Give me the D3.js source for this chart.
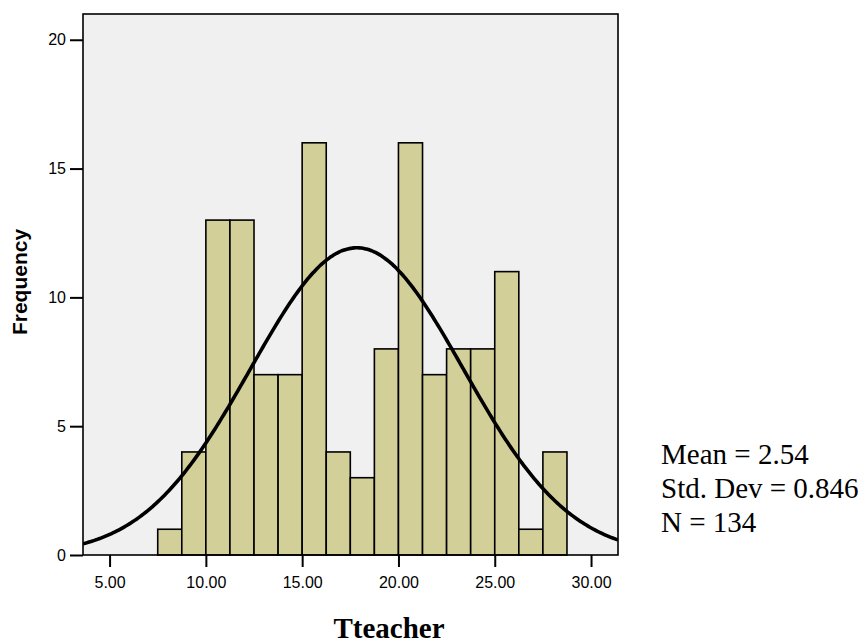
<!DOCTYPE html>
<html>
<head>
<meta charset="utf-8">
<script src="https://cdn.jsdelivr.net/npm/d3@7"></script>
<style>
  body { margin: 0; background: #fff; }
  svg { display: block; }
</style>
</head>
<body>
<div id="chart"></div>
<script>
// histogram bins (left edges) and counts
const binStarts = [7.5, 8.75, 10, 11.25, 12.5, 13.75, 15, 16.25, 17.5, 18.75, 20, 21.25, 22.5, 23.75, 25, 26.25, 27.5];
const binWidth = 1.25;
const counts = [1, 4, 13, 13, 7, 7, 16, 4, 3, 8, 16, 7, 8, 8, 11, 1, 4];
const xTicks = [5, 10, 15, 20, 25, 30];
const yTicks = [0, 5, 10, 15, 20];
// fitted normal curve
const curveMean = 17.84;
const curveSd = 5.52;
const curveN = 132;
const statLines = ["Mean = 2.54", "Std. Dev = 0.846", "N = 134"];

const W = 867, H = 643;
const plot = { left: 83, right: 618, top: 14, bottom: 555 };

const svg = d3.select("#chart").append("svg")
    .attr("width", W)
    .attr("height", H);

const x = d3.scaleLinear().domain([3.62, 31.40]).range([plot.left, plot.right]);
const y = d3.scaleLinear().domain([0, 21]).range([plot.bottom, plot.top]);

// plot background
svg.append("rect")
   .attr("x", plot.left).attr("y", plot.top)
   .attr("width", plot.right - plot.left)
   .attr("height", plot.bottom - plot.top)
   .attr("fill", "#f0f0f0");

svg.append("clipPath").attr("id", "clip")
   .append("rect")
   .attr("x", plot.left).attr("y", plot.top)
   .attr("width", plot.right - plot.left)
   .attr("height", plot.bottom - plot.top);

const bins = binStarts.map((s, i) => ({ x0: s, x1: s + binWidth, n: counts[i] }));

// bars
svg.append("g").selectAll("rect")
   .data(bins)
   .enter().append("rect")
   .attr("x", d => x(d.x0))
   .attr("y", d => y(d.n))
   .attr("width", d => x(d.x1) - x(d.x0))
   .attr("height", d => y(0) - y(d.n))
   .attr("fill", "#d3cf98")
   .attr("stroke", "#000")
   .attr("stroke-width", 1.6);

// normal curve
const dens = v => curveN * binWidth / (curveSd * Math.sqrt(2 * Math.PI)) *
    Math.exp(-0.5 * Math.pow((v - curveMean) / curveSd, 2));
const xs = d3.range(0, 301).map(i => x.domain()[0] + (x.domain()[1] - x.domain()[0]) * i / 300);
svg.append("path")
   .attr("clip-path", "url(#clip)")
   .attr("d", d3.line().x(v => x(v)).y(v => y(dens(v))).curve(d3.curveBasis)(xs))
   .attr("fill", "none")
   .attr("stroke", "#000")
   .attr("stroke-width", 3.6);

// frame
svg.append("rect")
   .attr("x", plot.left).attr("y", plot.top)
   .attr("width", plot.right - plot.left)
   .attr("height", plot.bottom - plot.top)
   .attr("fill", "none")
   .attr("stroke", "#000")
   .attr("stroke-width", 1.6);

// axes
const yAxis = svg.append("g")
   .attr("transform", `translate(${plot.left},0)`)
   .call(d3.axisLeft(y).tickValues(yTicks).tickSize(13).tickPadding(4).tickFormat(d3.format("d")));
const xAxis = svg.append("g")
   .attr("transform", `translate(0,${plot.bottom})`)
   .call(d3.axisBottom(x).tickValues(xTicks).tickSize(12).tickPadding(10).tickFormat(d3.format(".2f")));

[yAxis, xAxis].forEach(g => {
    g.select(".domain").remove();
    g.selectAll(".tick line").attr("stroke", "#000").attr("stroke-width", 2);
    g.selectAll(".tick text")
     .attr("fill", "#000")
     .style("font-family", "'Liberation Sans', Arial, sans-serif")
     .style("font-size", "16px");
});

// axis titles
svg.append("text")
   .attr("transform", "translate(27,282) rotate(-90)")
   .attr("text-anchor", "middle")
   .style("font-family", "'Liberation Sans', Arial, sans-serif")
   .style("font-size", "21px")
   .style("font-weight", "bold")
   .text("Frequency");

svg.append("text")
   .attr("x", 389)
   .attr("y", 638)
   .attr("text-anchor", "middle")
   .style("font-family", "'Liberation Serif', 'Times New Roman', serif")
   .style("font-size", "29px")
   .style("font-weight", "bold")
   .text("Tteacher");

// stats box
svg.append("g").selectAll("text")
   .data(statLines)
   .enter().append("text")
   .attr("x", 661)
   .attr("y", (d, i) => 464 + i * 34)
   .style("font-family", "'Liberation Serif', 'Times New Roman', serif")
   .style("font-size", "29px")
   .text(d => d);
</script>
</body>
</html>
